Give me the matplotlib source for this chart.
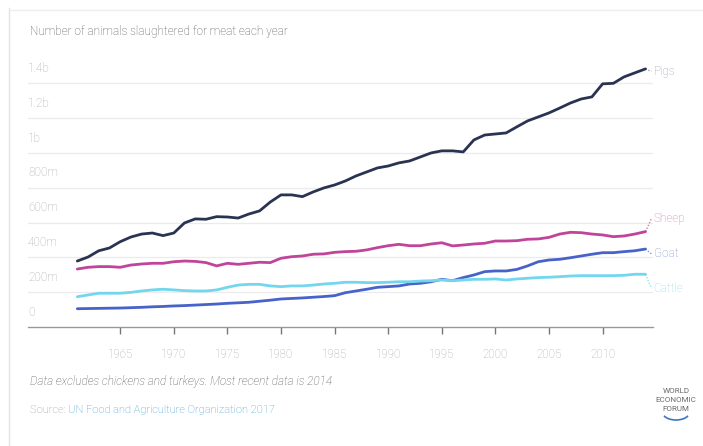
import matplotlib.pyplot as plt
from matplotlib.patches import Arc
from matplotlib.lines import Line2D

years = list(range(1961, 2015))

# millions of animals
pigs = [379, 402, 438, 454, 490, 517, 534, 540, 525, 540,
        598, 621, 619, 634, 632, 626, 649, 667, 718, 759,
        759, 749, 776, 799, 816, 839, 868, 891, 914, 925,
        943, 954, 977, 1000, 1012, 1012, 1006, 1075, 1103, 1109,
        1115, 1150, 1184, 1207, 1230, 1258, 1287, 1310, 1322, 1397,
        1400, 1437, 1460, 1483]
sheep = [333, 343, 347, 347, 343, 356, 362, 366, 366, 375,
         379, 377, 370, 351, 366, 360, 366, 372, 370, 395,
         404, 408, 418, 420, 429, 433, 435, 443, 456, 467,
         475, 467, 467, 477, 484, 466, 471, 477, 481, 494,
         494, 496, 504, 506, 515, 534, 544, 542, 534, 529,
         519, 523, 534, 548]
goat = [105, 106, 107, 108, 109, 111, 113, 116, 118, 121,
        123, 126, 129, 132, 136, 139, 142, 148, 154, 161,
        164, 167, 171, 175, 180, 197, 207, 217, 228, 232,
        236, 247, 251, 260, 274, 266, 284, 299, 318, 322,
        322, 331, 351, 375, 385, 389, 398, 408, 418, 427,
        427, 433, 438, 448]
cattle = [174, 184, 194, 194, 194, 199, 207, 213, 217, 213,
          209, 207, 207, 213, 228, 241, 245, 245, 236, 232,
          236, 236, 241, 247, 251, 257, 257, 255, 255, 257,
          260, 260, 264, 266, 270, 266, 270, 274, 274, 276,
          270, 276, 280, 284, 286, 289, 293, 295, 295, 295,
          295, 297, 303, 303]

series_names = ['Pigs', 'Sheep', 'Goat', 'Cattle']
series_values = [pigs, sheep, goat, cattle]
line_colors = ['#2b3352', '#c0449a', '#4763c9', '#72d6ef']
label_colors = ['#9aa0b8', '#d57ab8', '#8594d2', '#8fe2f4']
label_pos = [1468, 622, 420, 222]

y_ticks = [0, 200, 400, 600, 800, 1000, 1200, 1400]
y_tick_labels = ['0', '200m', '400m', '600m', '800m', '1b', '1.2b', '1.4b']
x_ticks = [1965, 1970, 1975, 1980, 1985, 1990, 1995, 2000, 2005, 2010]

plt.rcParams['font.family'] = ['Roboto', 'DejaVu Sans']

W, H = 703, 446
fig = plt.figure(figsize=(W / 100, H / 100), dpi=100)
ax = fig.add_axes([28 / W, 1 - 327 / H, 625 / W, 267 / H])

for name, vals, c in zip(series_names, series_values, line_colors):
    ax.plot(years, vals, color=c, linewidth=2, solid_capstyle='round',
            solid_joinstyle='round', zorder=3)

# end labels with dotted leaders
for name, vals, c, lc, ly in zip(series_names, series_values, line_colors,
                                 label_colors, label_pos):
    ax.plot([years[-1], years[-1] + 0.55], [vals[-1], ly], color=lc,
            linestyle=(0, (1, 1.2)), linewidth=1, clip_on=False)
    ax.text(years[-1] + 0.75, ly, name, color=lc, fontsize=8.5,
            va='center', ha='left', fontweight='light', clip_on=False)

ax.set_xlim(1956.4, 2014.7)
ax.set_ylim(0, 1534)

for v, lab in zip(y_ticks, y_tick_labels):
    if v > 0:
        ax.axhline(v, color='#ebebeb', linewidth=0.9, zorder=1)
    ax.annotate(lab, (0, v), xycoords=('axes fraction', 'data'),
                xytext=(0, 6), textcoords='offset points',
                fontsize=8.5, color='#ababab', fontweight='light',
                ha='left', va='bottom')

ax.set_yticks([])
ax.set_xticks(x_ticks)
ax.set_xticklabels([str(x) for x in x_ticks], fontsize=8.3, color='#ababab',
                   fontweight='light')
ax.tick_params(axis='x', direction='out', length=5, width=1, color='#777777',
               pad=10)
for s in ['top', 'right', 'left']:
    ax.spines[s].set_visible(False)
ax.spines['bottom'].set_color('#999999')
ax.spines['bottom'].set_linewidth(1)

# card border
fig.add_artist(Line2D([9 / W, 9 / W], [0, 1 - 8 / H], color='#e2e2e2', linewidth=1))
fig.add_artist(Line2D([9 / W, 1], [1 - 10 / H, 1 - 10 / H], color='#eeeeee', linewidth=1))

fig.text(30 / W, 1 - 31 / H, 'Number of animals slaughtered for meat each year',
         fontsize=8.5, color='#555555', va='center', fontweight='light')
fig.text(30 / W, 1 - 381 / H,
         'Data excludes chickens and turkeys. Most recent data is 2014',
         fontsize=8.5, color='#555555', va='center', style='italic',
         fontweight='light')
t = fig.text(30 / W, 1 - 410 / H, 'Source: ', fontsize=8, color='#9a9a9a',
             va='center', fontweight='light')
fig.canvas.draw()
bb = t.get_window_extent()
fig.text(bb.x1 / W, 1 - 410 / H, 'UN Food and Agriculture Organization 2017',
         fontsize=8, color='#3d9fd3', va='center', fontweight='light')

# WEF logo
for i, word in enumerate(['WORLD', 'ECONOMIC', 'FORUM']):
    fig.text(676 / W, 1 - (391 + i * 9) / H, word, fontsize=5.8,
             color='#6a6a6a', ha='center', va='center')
fig.add_artist(Arc((676 / W, 1 - 413 / H), 26 / W, 14 / H, theta1=200,
                   theta2=340, color='#3a78c2', linewidth=1.2,
                   transform=fig.transFigure))

fig.savefig('out.png', dpi=100)
